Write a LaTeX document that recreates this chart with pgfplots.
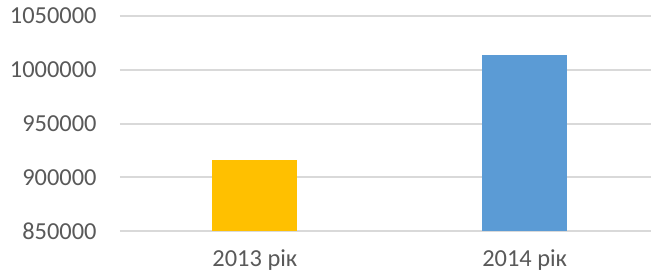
\documentclass[border=0pt]{standalone}
\usepackage{fontspec}
\setmainfont{Carlito}
\usepackage{pgfplots}
\pgfplotsset{compat=1.18}
\definecolor{gold}{HTML}{FFC000}
\definecolor{steel}{HTML}{5B9BD5}
\definecolor{gridc}{HTML}{D9D9D9}
\definecolor{txt}{HTML}{595959}
\begin{document}
\begin{tikzpicture}
\path[use as bounding box] (-120bp,-43bp) rectangle (531bp,231bp);
\begin{axis}[
  at={(0,0)}, anchor=south west,
  scale only axis, width=531bp, height=215bp,
  xmin=-0.5, xmax=1.4685, ymin=850000, ymax=1050000,
  ytick={850000,900000,950000,1000000,1050000},
  xtick={0,1}, xticklabels={2013 рік, 2014 рік},
  scaled y ticks=false,
  axis line style={draw=none}, tick style={draw=none},
  ymajorgrids, grid style={gridc, line width=2bp},
  /pgf/number format/assume math mode=true,
  yticklabel style={/pgf/number format/fixed, /pgf/number format/1000 sep={}},
  ticklabel style={font=\fontsize{24.5}{26}\selectfont, text=txt},
  yticklabel style={anchor=east, xshift=-20bp},
  xticklabel style={yshift=-15bp},
]
\addplot[ybar, bar shift=0pt, bar width=85bp, fill=gold, draw=none] coordinates {(0,915700)};
\addplot[ybar, bar shift=0pt, bar width=85bp, fill=steel, draw=none] coordinates {(1,1013800)};
\end{axis}
\end{tikzpicture}
\end{document}
